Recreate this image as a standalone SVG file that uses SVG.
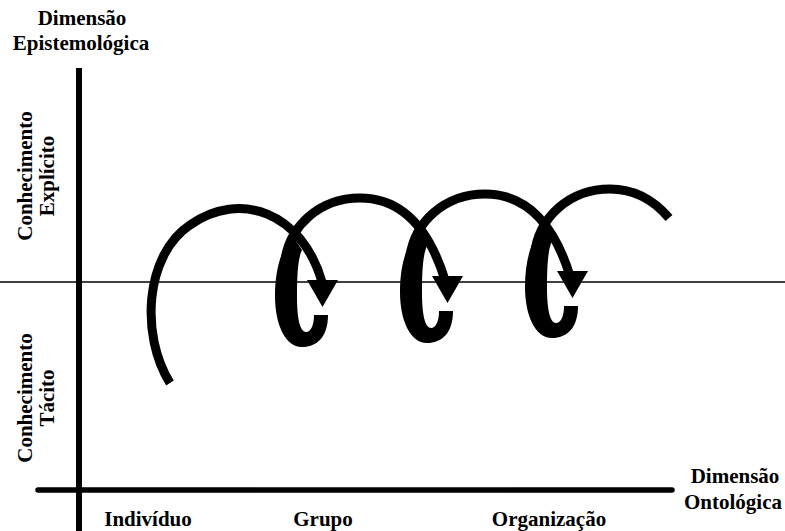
<svg xmlns="http://www.w3.org/2000/svg" width="785" height="531" viewBox="0 0 785 531">
<style>
.t{font-family:"Liberation Serif","Times New Roman",serif;font-weight:bold;font-size:21px;fill:#000}
.arc{fill:none;stroke:#000;stroke-width:9}
.axis{stroke:#000;fill:none}
</style>
<defs>
<g id="loop">
<path d="M328,315 C328,337 317,347 302,347 C285,347 275,324 275,296 C275,266 283,246 293,236 L302,250 C298,258 297,275 297,297 C297,318 300,332 306,332 C311,332 314,325 314,315 Z" fill="#000"/>
<polygon points="307,280 338,280 322.5,307" fill="#000"/>
</g>
</defs>
<rect width="785" height="531" fill="#fff"/>
<g id="axes">
<line class="axis" x1="0" y1="282" x2="785" y2="282" stroke-width="1.3"/>
<line class="axis" x1="79" y1="68" x2="79" y2="531" stroke-width="6"/>
<line class="axis" x1="38" y1="490" x2="672" y2="490" stroke-width="5.5" stroke-linecap="round"/>
</g>
<g id="labels">
<text class="t" x="82" y="25" text-anchor="middle">Dimensão</text>
<text class="t" x="81" y="50" text-anchor="middle">Epistemológica</text>
<text class="t" x="735" y="483" text-anchor="middle">Dimensão</text>
<text class="t" x="733" y="509" text-anchor="middle">Ontológica</text>
<text class="t" x="148" y="526" text-anchor="middle">Indivíduo</text>
<text class="t" x="323" y="526" text-anchor="middle">Grupo</text>
<text class="t" x="549" y="526" text-anchor="middle">Organização</text>
<text class="t" transform="translate(32,176) rotate(-90)" text-anchor="middle">Conhecimento</text>
<text class="t" transform="translate(54,176) rotate(-90)" text-anchor="middle">Explícito</text>
<text class="t" transform="translate(32,398) rotate(-90)" text-anchor="middle">Conhecimento</text>
<text class="t" transform="translate(54,398) rotate(-90)" text-anchor="middle">Tácito</text>
</g>
<g id="spiral">
<path class="arc" d="M170,383 C140,335 145,255 190,225 C240,190 302,212 322,282"/>
<use href="#loop"/>
<path class="arc" d="M284,268 C287,224 322,198 360,198 C400,198 428,225 445,280"/>
<g transform="translate(125,-4)">
<use href="#loop"/>
<path class="arc" d="M284,268 C287,224 322,198 360,198 C400,198 428,225 445,280"/>
</g>
<g transform="translate(250,-9)">
<use href="#loop"/>
<path class="arc" d="M284,268 C287,224 322,198 360,198 C384,198 403,208 419,227"/>
</g>
</g>
</svg>
